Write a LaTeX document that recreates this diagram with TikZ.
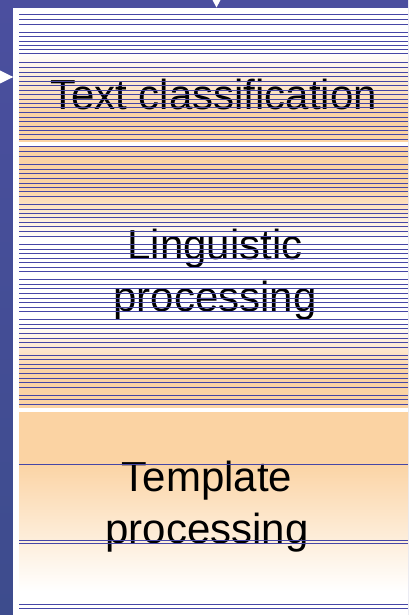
\documentclass[tikz,border=0pt]{standalone}
\usepackage{fontspec}
\setmainfont{Liberation Sans}
\usetikzlibrary{positioning}

\definecolor{frameblue}{HTML}{4B4F9F}
\definecolor{framedark}{HTML}{3D4C8D}
\definecolor{peach}{HTML}{FBD3A3}
\definecolor{ruleblue}{HTML}{4646A6}

% box fills, 0bp = bottom of the box, path fits 25bp..75bp
\pgfdeclareverticalshading{classfill}{100bp}{color(0bp)=(peach); color(36bp)=(peach); color(60bp)=(white); color(100bp)=(white)}
\pgfdeclareverticalshading{lingfill}{100bp}{color(0bp)=(peach); color(32bp)=(peach); color(41bp)=(white); color(57bp)=(white); color(67bp)=(peach); color(100bp)=(peach)}
\pgfdeclareverticalshading{templfill}{100bp}{color(0bp)=(white); color(31bp)=(white); color(63bp)=(peach); color(100bp)=(peach)}

\begin{document}
\begin{tikzpicture}[x=1pt,y=-1pt,
    label/.style={font=\fontsize{42}{52}\selectfont,align=center,inner sep=0pt,anchor=base},
    rule/.style={ruleblue,line width=1pt}]
  \useasboundingbox (0,0) rectangle (408,615);

  % frame and pointers
  \shade[top color=frameblue,bottom color=framedark] (0,0) rectangle (408,615);
  \fill[white] (13.3,8) rectangle (408,615);
  \fill[white] (212.5,0) -- (220.5,0) -- (216.5,7.5) -- cycle;
  \fill[white] (0,70.5) -- (13.3,77) -- (0,83.5) -- cycle;

  % the three stages
  \shade[shading=classfill] (19,12) rectangle (408,141);
  \shade[shading=lingfill]  (19,146) rectangle (408,407);
  \shade[shading=templfill] (19,412.7) rectangle (408,615);

  % base is the last line of a two line label
  \node[label] (classify)   at (213.5,110) {Text classification};
  \node[label] (linguistic) at (215,311.7) {Linguistic\\processing};
  \node[label] (template)   at (207,543.3) {Template\\processing};

  % ruled lines, one pixel row each
  \foreach \y in {14,19,24,32,36,41,45,49,53,62,67,72,76,81,85,90,94,99,103,107,112,117,121,126,130,134,139}
    \draw[rule] (19,\y+0.5) -- (408,\y+0.5);
  \foreach \y in {146,151,156,164,169,173,178,183,187,191,196,204,209,213,217,222,226,231,236,244,249,253,
                  258,262,267,271,279,284,288,293,298,302,307,311,319,324,328,333,338,342,347,355,359,364,
                  368,373,378,382,387,395,399,404}
    \draw[rule] (19,\y+0.5) -- (408,\y+0.5);
  \foreach \y in {464,540,543,604,608}
    \draw[rule] (19,\y+0.5) -- (408,\y+0.5);
\end{tikzpicture}
\end{document}
